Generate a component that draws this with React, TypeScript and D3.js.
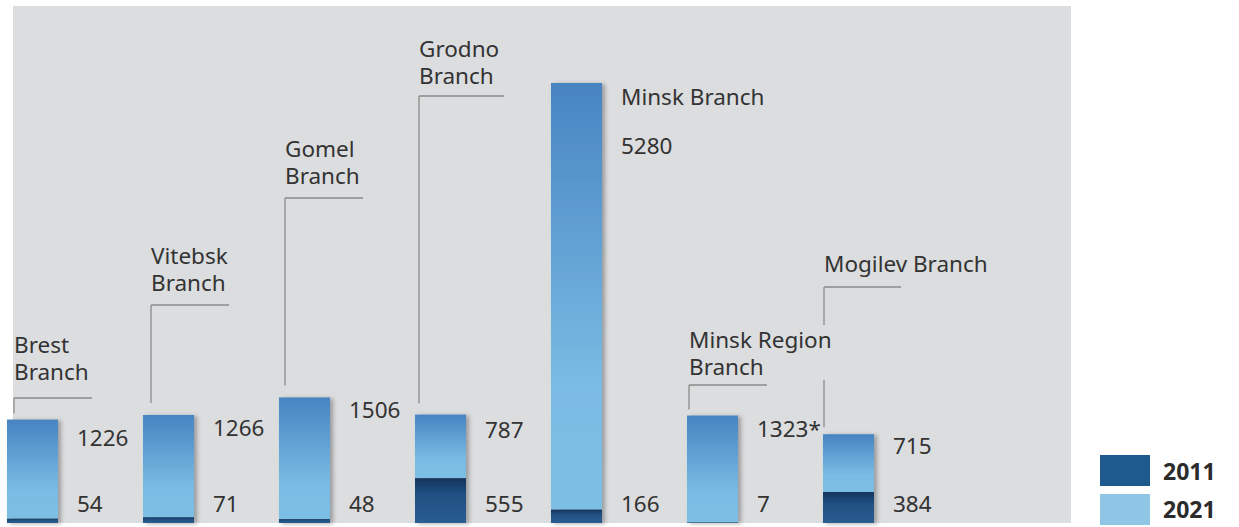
import { useRef, useEffect } from "react";
import * as d3 from "d3";

const branches = ["Brest", "Vitebsk", "Gomel", "Grodno", "Minsk", "Minsk Region", "Mogilev"];
const values2011 = [54, 71, 48, 555, 166, 7, 384];
const values2021 = [1226, 1266, 1506, 787, 5280, 1323, 715];
const labels2021 = ["1226", "1266", "1506", "787", "5280", "1323*", "715"];
const branchLabels = [
  ["Brest", "Branch"],
  ["Vitebsk", "Branch"],
  ["Gomel", "Branch"],
  ["Grodno", "Branch"],
  ["Minsk Branch"],
  ["Minsk Region", "Branch"],
  ["Mogilev Branch"],
];
const years = ["2011", "2021"];

// where the callouts sit (layout only)
const callouts = [
  { textY: 353, lineY: 398, lineLen: 78, gap: 6, valueDy: 26, dx: 7 },
  { textY: 264, lineY: 305, lineLen: 78, gap: 12, valueDy: 21, dx: 8 },
  { textY: 157, lineY: 198, lineLen: 78, gap: 12, valueDy: 21, dx: 6 },
  { textY: 57, lineY: 96, lineLen: 85, gap: 11, valueDy: 23, dx: 4 },
  { textY: 105, lineY: null, lineLen: 0, gap: 0, valueDy: 71, dx: 70 },
  { textY: 348, lineY: 385, lineLen: 78, gap: 6, valueDy: 21, dx: 2 },
  { textY: 272, lineY: 287, lineLen: 77, gap: 7, valueDy: 20, dx: 1, breakAt: [325, 380] },
];

const W = 1239;
const H = 527;

const BranchChart = () => {
  const chartRef = useRef(null);

  useEffect(() => {
    const el = chartRef.current;
    const font = "'Noto Sans', sans-serif";
    const fs = 22.5;

    const svg = d3
      .select(el)
      .append("svg")
      .attr("width", W)
      .attr("height", H)
      .style("position", "absolute")
      .style("left", "0px")
      .style("top", "0px");

    const defs = svg.append("defs");
    const light = defs.append("linearGradient").attr("id", "g2021").attr("x1", 0).attr("y1", 0).attr("x2", 0).attr("y2", 1);
    light.append("stop").attr("offset", "0").attr("stop-color", "#4784c2");
    light.append("stop").attr("offset", "0.72").attr("stop-color", "#7bbce4");
    light.append("stop").attr("offset", "1").attr("stop-color", "#7dbee5");
    const dark = defs.append("linearGradient").attr("id", "g2011").attr("x1", 0).attr("y1", 0).attr("x2", 0).attr("y2", 1);
    dark.append("stop").attr("offset", "0").attr("stop-color", "#11345a");
    dark.append("stop").attr("offset", "0.35").attr("stop-color", "#214f82");
    dark.append("stop").attr("offset", "1").attr("stop-color", "#2a5d92");
    const shadow = defs.append("filter").attr("id", "shadow").attr("x", "-20%").attr("y", "-5%").attr("width", "150%").attr("height", "115%");
    shadow
      .append("feDropShadow")
      .attr("dx", 3)
      .attr("dy", 1)
      .attr("stdDeviation", 2)
      .attr("flood-color", "#000")
      .attr("flood-opacity", 0.3);

    svg.append("rect").attr("x", 13).attr("y", 6).attr("width", 1058).attr("height", 517).attr("fill", "#dcdddf");

    const x = d3.scaleBand<string>().domain(branches).range([7, 874]).paddingInner(0.625).paddingOuter(0);
    const totals = branches.map((_b, i) => values2011[i] + values2021[i]);
    const y = d3
      .scaleLinear()
      .domain([0, d3.max(totals) as number])
      .range([523, 83]);
    const bw = x.bandwidth();

    const g = svg.append("g");

    branches.forEach((b, i) => {
      const x0 = x(b) as number;
      const c = callouts[i];
      const top = y(totals[i]);
      const mid = y(values2011[i]);

      const bar = g.append("g").attr("filter", "url(#shadow)");
      bar
        .append("rect")
        .attr("x", x0)
        .attr("y", top)
        .attr("width", bw)
        .attr("height", mid - top)
        .attr("fill", "url(#g2021)");
      bar
        .append("rect")
        .attr("x", x0)
        .attr("y", mid)
        .attr("width", bw)
        .attr("height", y(0) - mid)
        .attr("fill", "url(#g2011)");

      const tx = x0 + bw + 19;
      g.append("text")
        .attr("x", tx)
        .attr("y", top + c.valueDy)
        .attr("font-family", font)
        .attr("font-size", fs)
        .attr("fill", "#333")
        .text(labels2021[i]);
      g.append("text")
        .attr("x", tx)
        .attr("y", 512)
        .attr("font-family", font)
        .attr("font-size", fs)
        .attr("fill", "#333")
        .text(values2011[i]);

      const lx = x0 + c.dx;
      const lt = g
        .append("text")
        .attr("font-family", font)
        .attr("font-size", fs)
        .attr("fill", "#333");
      branchLabels[i].forEach((line, k) => {
        lt.append("tspan")
          .attr("x", lx)
          .attr("y", c.textY + k * 27)
          .text(line);
      });

      if (c.lineY !== null) {
        const lines = g.append("g").attr("stroke", "#8a8a8a").attr("stroke-width", 1.3).attr("fill", "none");
        const bottom = top - c.gap;
        lines
          .append("line")
          .attr("x1", lx)
          .attr("x2", lx + c.lineLen)
          .attr("y1", c.lineY)
          .attr("y2", c.lineY);
        if (c.breakAt) {
          lines.append("line").attr("x1", lx).attr("x2", lx).attr("y1", c.lineY).attr("y2", c.breakAt[0]);
          lines.append("line").attr("x1", lx).attr("x2", lx).attr("y1", c.breakAt[1]).attr("y2", bottom);
        } else {
          lines.append("line").attr("x1", lx).attr("x2", lx).attr("y1", c.lineY).attr("y2", bottom);
        }
      }
    });

    // legend
    const legendColors = ["#1f5a8f", "#8fc6e6"];
    years.forEach((yr, i) => {
      svg
        .append("rect")
        .attr("x", 1100)
        .attr("y", 455 + i * 39)
        .attr("width", 50)
        .attr("height", 31)
        .attr("fill", legendColors[i]);
      svg
        .append("text")
        .attr("x", 1163)
        .attr("y", 480 + i * 38)
        .attr("font-family", font)
        .attr("font-weight", "bold")
        .attr("font-size", 23)
        .attr("fill", "#2b2b2b")
        .text(yr);
    });

    return () => {
      d3.select(el).select("svg").remove();
    };
  }, []);

  return <div ref={chartRef}></div>;
};

export default function App() {
  return <BranchChart />;
}
